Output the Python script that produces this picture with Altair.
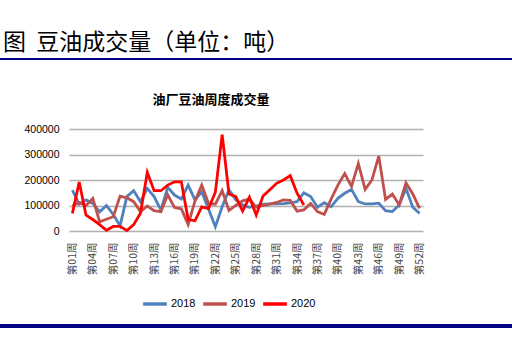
import altair as alt
import pandas as pd

weeks = [f"第{i:02d}周" for i in range(1, 53)]
tick_weeks = [weeks[i] for i in range(0, 52, 3)]
years = ["2018", "2019", "2020"]
colors = ["#4F81BD", "#C0504D", "#FF0000"]

v2018 = [160000, 105000, 122000, 108000, 75000, 100000, 65000, 20000, 135000, 158000,
         115000, 167000, 135000, 82000, 171000, 141000, 125000, 180000, 122000, 154000,
         85000, 17000, 95000, 161000, 122000, 102000, 93000, 98000, 105000, 106000,
         106000, 107000, 110000, 115000, 150000, 135000, 93000, 111000, 95000, 128000,
         148000, 163000, 115000, 106000, 106000, 109000, 80000, 76000, 102000, 167000,
         93000, 69000]
v2019 = [98000, 112000, 100000, 128000, 36000, 46000, 56000, 137000, 130000, 115000,
         76000, 98000, 80000, 76000, 142000, 92000, 87000, 25000, 117000, 180000,
         108000, 105000, 158000, 80000, 100000, 118000, 125000, 93000, 100000, 105000,
         112000, 122000, 120000, 78000, 83000, 108000, 76000, 65000, 125000, 180000,
         225000, 175000, 265000, 163000, 200000, 294000, 124000, 145000, 102000, 189000,
         145000, 89000]
v2020 = [69000, 192000, 62000, 45000, 25000, 3000, 18000, 18000, 2000, 25000,
         70000, 230000, 158000, 158000, 180000, 193000, 193000, 45000, 40000, 95000,
         88000, 152000, 378000, 145000, 135000, 78000, 132000, 63000, 137000, 162000,
         187000, 200000, 217000, 148000, 102000]
y_ticks = [0, 100000, 200000, 300000, 400000]

main_title = "图\u00a0\u00a0豆油成交量（单位：吨）"
chart_title = "油厂豆油周度成交量"

rows = []
for name, vals in zip(years, (v2018, v2019, v2020)):
    for i, v in enumerate(vals):
        rows.append({"week": weeks[i], "idx": i, "year": name, "value": v})
df = pd.DataFrame(rows)

W, H = 354, 102
PL, PT = 69, 129

lines = alt.Chart(df).mark_line(strokeWidth=2.8).encode(
    x=alt.X("week:O", sort=weeks,
            scale=alt.Scale(type="point", padding=0.5),
            axis=alt.Axis(values=tick_weeks, labelAngle=270, title=None,
                          domain=False, ticks=False, grid=False,
                          labelFont="Noto Sans CJK SC", labelFontSize=10.5,
                          labelColor="#444444", labelPadding=11)),
    y=alt.Y("value:Q", scale=alt.Scale(domain=[0, 400000]),
            axis=alt.Axis(values=y_ticks, format="d", title=None,
                          domain=False, ticks=False, grid=True,
                          gridColor="#b0b0b0", gridWidth=1.6,
                          labelFont="Liberation Sans", labelFontSize=10.5,
                          labelColor="#000000", labelPadding=10)),
    color=alt.Color("year:N", scale=alt.Scale(domain=years, range=colors),
                    legend=alt.Legend(title=None, orient="none", legendX=72, legendY=161,
                                      direction="horizontal", symbolType="stroke",
                                      symbolSize=560, symbolStrokeWidth=3.5,
                                      labelFont="Liberation Sans", labelFontSize=11,
                                      labelColor="#000000", labelOffset=2,
                                      columnPadding=0)),
    order=alt.Order("idx:Q"),
)

tdf = pd.DataFrame({"t": [main_title]})
ctdf = pd.DataFrame({"t": [chart_title]})
one = pd.DataFrame({"a": [0]})

title_mark = alt.Chart(tdf).mark_text(
    align="left", baseline="alphabetic", font="Noto Sans CJK SC",
    fontSize=23, color="#000000").encode(
    x=alt.value(3 - PL), y=alt.value(50 - PT), text="t:N")

ctitle_mark = alt.Chart(ctdf).mark_text(
    align="center", baseline="middle", font="Noto Sans CJK SC",
    fontSize=13, fontWeight="bold", color="#000000").encode(
    x=alt.value(211 - PL), y=alt.value(100 - PT), text="t:N")

top_rule = alt.Chart(one).mark_rule(color="#000080", strokeWidth=2).encode(
    x=alt.value(-PL), x2=alt.value(512 - PL), y=alt.value(59 - PT))
bottom_rule = alt.Chart(one).mark_rule(color="#000080", strokeWidth=4).encode(
    x=alt.value(-PL), x2=alt.value(512 - PL), y=alt.value(326 - PT))

chart = alt.layer(lines, title_mark, ctitle_mark, top_rule, bottom_rule).properties(
    width=W, height=H,
    autosize="none",
    padding={"left": PL, "top": PT, "right": 512 - PL - W, "bottom": 341 - PT - H},
    background="#ffffff",
).configure_view(stroke=None)

chart.save("out.html", embed_options={"renderer": "svg", "actions": False})
